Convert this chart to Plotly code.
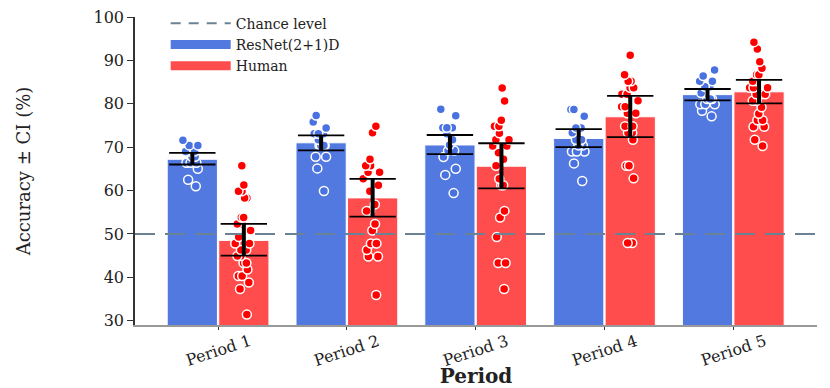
import plotly.graph_objects as go

periods = ["Period 1", "Period 2", "Period 3", "Period 4", "Period 5"]
chance = 50

# bar heights (mean accuracy)
resnet_mean = [67.2, 71.0, 70.5, 72.0, 82.1]
human_mean = [48.5, 58.3, 65.6, 77.0, 82.75]

# confidence interval ends
resnet_lo = [66.0, 69.25, 68.4, 70.0, 80.8]
resnet_hi = [68.7, 72.7, 72.8, 74.15, 83.4]
human_lo = [45.0, 54.0, 60.5, 72.3, 80.1]
human_hi = [52.3, 62.7, 70.9, 81.8, 85.5]

# individual runs / participants
resnet_pts = [
    [71.6, 70.4, 70.4, 69.0, 69.0, 69.0, 67.8, 67.8, 66.4, 66.4, 66.4, 65.0, 62.5, 61.0],
    [77.3, 75.8, 74.4, 73.1, 73.1, 73.1, 71.7, 70.4, 70.4, 70.4, 70.4, 67.8, 67.8, 65.1, 59.9],
    [78.75, 77.25, 74.45, 74.45, 74.45, 73.1, 71.7, 70.5, 69.2, 69.2, 67.7, 65.0, 63.6, 59.4],
    [78.7, 78.7, 77.1, 74.4, 74.4, 73.3, 71.7, 71.7, 70.4, 70.4, 69.0, 69.0, 69.0, 66.25, 62.2],
    [87.8, 86.4, 85.2, 85.2, 83.9, 83.9, 82.5, 82.5, 81.1, 81.1, 81.1, 79.9, 79.9, 79.9, 78.4, 77.1],
]
human_pts = [
    [65.7, 61.3, 59.85, 59.85, 58.3, 58.3, 53.8, 53.8, 52.3, 52.3, 50.8, 49.3, 47.8, 47.8,
     46.3, 46.3, 44.9, 44.9, 43.3, 43.3, 41.8, 40.3, 40.3, 38.8, 37.3, 31.4],
    [74.8, 73.3, 67.2, 65.7, 65.7, 64.2, 64.2, 62.7, 61.2, 59.85, 56.8, 55.3, 55.3, 52.3,
     50.8, 47.8, 47.8, 46.3, 44.8, 44.8, 35.9],
    [83.65, 80.65, 76.2, 74.8, 74.8, 73.2, 71.7, 71.7, 70.25, 70.25, 68.7, 67.2, 65.7, 62.7,
     61.2, 61.2, 55.3, 53.8, 49.3, 43.3, 43.3, 37.3],
    [91.2, 86.7, 85.2, 85.2, 83.7, 83.7, 82.2, 82.2, 82.2, 80.7, 79.3, 79.3, 77.8, 77.8,
     74.8, 74.8, 73.3, 73.3, 73.3, 71.7, 65.7, 65.7, 62.8, 47.9, 47.9],
    [94.2, 92.6, 89.7, 88.2, 86.7, 86.7, 85.2, 85.2, 83.7, 83.7, 83.7, 82.2, 82.2, 82.2,
     80.7, 80.7, 79.2, 77.7, 76.2, 76.2, 74.7, 74.7, 71.7, 70.25],
]

BLUE_BAR = "#5279e0"
RED_BAR = "#ff4d4d"
BLUE_PT = "#4a71e0"
RED_PT = "#ff0000"
FONT = "DejaVu Serif"
XRANGE = [-0.645, 4.65]
off = 0.2
cap = 0.18

fig = go.Figure()

groups = [
    ("ResNet(2+1)D", resnet_mean, resnet_lo, resnet_hi, resnet_pts, BLUE_BAR, BLUE_PT, -off),
    ("Human", human_mean, human_lo, human_hi, human_pts, RED_BAR, RED_PT, off),
]

for name, mean, lo, hi, pts, bc, pc, dx in groups:
    xs = [i + dx for i in range(len(periods))]
    fig.add_trace(go.Bar(x=xs, y=mean, width=0.39, marker=dict(color=bc, line=dict(color="white", width=1)),
                         showlegend=False, name=name))

# chance level line across the axis
fig.add_trace(go.Scatter(x=XRANGE, y=[chance, chance], mode="lines",
                         line=dict(color="#6a8294", width=2, dash="20px,10px"),
                         showlegend=False, hoverinfo="skip"))

for name, mean, lo, hi, pts, bc, pc, dx in groups:
    vx, vy, cx, cy = [], [], [], []
    for i in range(len(periods)):
        x = i + dx
        vx += [x, x, None]
        vy += [lo[i], hi[i], None]
        cx += [x - cap, x + cap, None, x - cap, x + cap, None]
        cy += [lo[i], lo[i], None, hi[i], hi[i], None]
    fig.add_trace(go.Scatter(x=vx, y=vy, mode="lines", line=dict(color="black", width=4),
                             showlegend=False, hoverinfo="skip"))
    fig.add_trace(go.Scatter(x=cx, y=cy, mode="lines", line=dict(color="black", width=1.8),
                             showlegend=False, hoverinfo="skip"))

for name, mean, lo, hi, pts, bc, pc, dx in groups:
    for i, p in enumerate(pts):
        fig.add_trace(go.Box(x=[i + dx] * len(p), y=p, orientation="v", width=0.3,
                             boxpoints="all", jitter=0.5, pointpos=0,
                             fillcolor="rgba(0,0,0,0)", line=dict(color="rgba(0,0,0,0)", width=0),
                             marker=dict(color=pc, size=9, line=dict(color="white", width=1.5)),
                             showlegend=False, name=name))

# legend entries
fig.add_trace(go.Scatter(x=[None], y=[None], mode="lines", name="Chance level",
                         line=dict(color="#6a8294", width=2, dash="10px,8px")))
fig.add_trace(go.Scatter(x=[None], y=[None], mode="lines", name="ResNet(2+1)D",
                         line=dict(color=BLUE_BAR, width=9)))
fig.add_trace(go.Scatter(x=[None], y=[None], mode="lines", name="Human",
                         line=dict(color=RED_BAR, width=9)))

# slanted period labels centred under each tick
for i, lab in enumerate(periods):
    fig.add_annotation(x=i, y=0, xref="x", yref="paper", text=lab, showarrow=False,
                       textangle=-18, xanchor="center", yanchor="top", yshift=-4,
                       font=dict(family=FONT, size=16, color="#222"))

fig.update_layout(
    width=822, height=380,
    margin=dict(l=127, r=13, t=9, b=63, autoexpand=False),
    plot_bgcolor="white", paper_bgcolor="white",
    font=dict(family=FONT, size=16, color="#222"),
    boxmode="overlay",
    legend=dict(x=0.045, y=1.03, xanchor="left", yanchor="top", bgcolor="rgba(0,0,0,0)",
                font=dict(size=14), tracegroupgap=0, itemwidth=60),
    xaxis=dict(range=XRANGE, tickvals=list(range(len(periods))), showticklabels=False,
               showline=True, linecolor="#999", linewidth=1.5,
               ticks="outside", ticklen=3, tickcolor="#333", showgrid=False, zeroline=False,
               title=dict(text="<b>Period</b>", font=dict(size=20), standoff=40)),
    yaxis=dict(range=[29, 100], tickvals=list(range(30, 101, 10)), showline=True,
               linecolor="#333", linewidth=1.5, ticks="outside", ticklen=6, tickcolor="#333",
               showgrid=False, zeroline=False, ticklabeloverflow="allow",
               title=dict(text="Accuracy ± CI (%)", font=dict(size=18), standoff=58)),
)

fig.write_html("out.html")
